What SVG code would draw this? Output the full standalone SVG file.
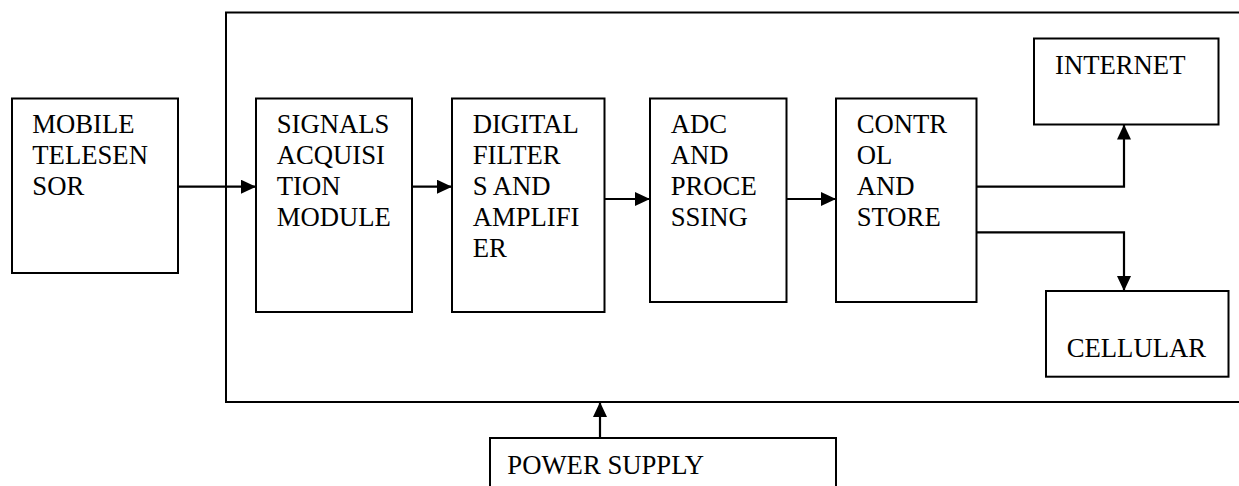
<svg xmlns="http://www.w3.org/2000/svg" width="1239" height="486" viewBox="0 0 1239 486">
<style>
.box{fill:#fff;stroke:#000;stroke-width:2}
text{font-family:'Liberation Serif','Times New Roman',serif;font-size:26.7px;fill:#000}
.con{fill:none;stroke:#000;stroke-width:2.2}
</style>
<defs>
<marker id="ah" markerWidth="15" markerHeight="14" refX="15" refY="7" orient="auto" markerUnits="userSpaceOnUse">
<path d="M0,0 L15,7 L0,14 Z" fill="#000"/>
</marker>
</defs>
<rect width="1239" height="486" fill="#fff"/>
<g id="system">
<rect class="box" x="226" y="12.5" width="1030" height="389.5"/>
</g>
<g id="mobile">
<rect class="box" x="12" y="98.5" width="166" height="174.5"/>
<text x="32.3" y="133.3">MOBILE</text>
<text x="32.3" y="164.3">TELESEN</text>
<text x="32.3" y="195">SOR</text>
</g>
<g id="signals">
<rect class="box" x="256" y="98.5" width="156" height="213.5"/>
<text x="276.7" y="133.3">SIGNALS</text>
<text x="276.7" y="164.3">ACQUISI</text>
<text x="276.7" y="195">TION</text>
<text x="276.7" y="226">MODULE</text>
</g>
<g id="digital">
<rect class="box" x="452" y="98.5" width="152.5" height="213.5"/>
<text x="472.7" y="133.3">DIGITAL</text>
<text x="472.7" y="164.3">FILTER</text>
<text x="472.7" y="195">S AND</text>
<text x="472.7" y="226">AMPLIFI</text>
<text x="472.7" y="256.7">ER</text>
</g>
<g id="adc">
<rect class="box" x="650" y="98.5" width="136.5" height="203.5"/>
<text x="670.7" y="133.3">ADC</text>
<text x="670.7" y="164.3">AND</text>
<text x="670.7" y="195">PROCE</text>
<text x="670.7" y="226">SSING</text>
</g>
<g id="control">
<rect class="box" x="836" y="98.5" width="140.5" height="203.5"/>
<text x="856.7" y="133.3">CONTR</text>
<text x="856.7" y="164.3">OL</text>
<text x="856.7" y="195">AND</text>
<text x="856.7" y="226">STORE</text>
</g>
<g id="internet">
<rect class="box" x="1034" y="38.5" width="184.5" height="86"/>
<text x="1055" y="74">INTERNET</text>
</g>
<g id="cellular">
<rect class="box" x="1046" y="291" width="182.5" height="85.7"/>
<text x="1066.7" y="357.3">CELLULAR</text>
</g>
<g id="power">
<rect class="box" x="490" y="438" width="346" height="60"/>
<text x="507.3" y="474">POWER SUPPLY</text>
</g>
<g id="connectors">
<path class="con" d="M178,186.7 H256" marker-end="url(#ah)"/>
<path class="con" d="M412,186.7 H452" marker-end="url(#ah)"/>
<path class="con" d="M604.5,199 H650" marker-end="url(#ah)"/>
<path class="con" d="M786.5,199 H836" marker-end="url(#ah)"/>
<path class="con" d="M976.5,186.7 H1124 V124.5" marker-end="url(#ah)"/>
<path class="con" d="M976.5,232.3 H1124 V291" marker-end="url(#ah)"/>
<path class="con" d="M600,438 V402" marker-end="url(#ah)"/>
</g>
</svg>
